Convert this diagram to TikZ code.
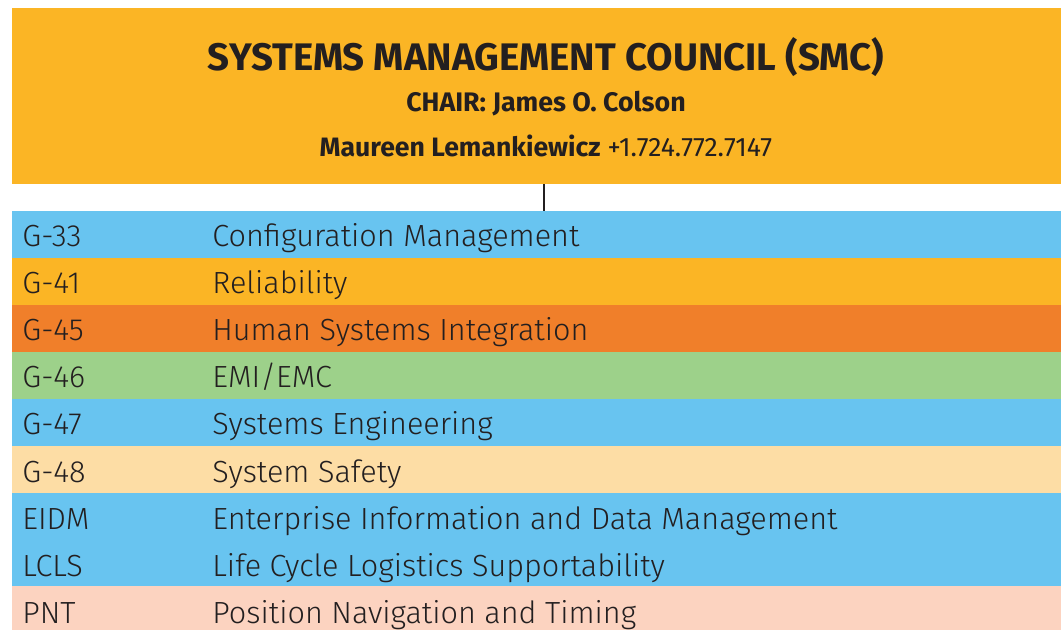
\documentclass[tikz,border=0pt]{standalone}
\usepackage{fontspec}
\setmainfont{Fira Sans}
\newfontfamily\rowfont{Fira Sans Light}
\usetikzlibrary{positioning}
\definecolor{smcgold}{RGB}{251,181,37}
\definecolor{smcblue}{RGB}{104,196,240}
\definecolor{smcorange}{RGB}{240,127,42}
\definecolor{smcgreen}{RGB}{157,209,138}
\definecolor{smcpeach}{RGB}{253,221,165}
\definecolor{smcpink}{RGB}{252,211,192}
\definecolor{smcink}{RGB}{35,31,32}

\tikzset{
  councilbox/.style={fill=smcgold,inner sep=0pt,minimum width=524.5pt,minimum height=88pt},
  rowcode/.style={anchor=base west,inner sep=0pt,text=smcink,font=\rowfont\fontsize{15.3}{18}\selectfont},
  rowname/.style={anchor=base west,inner sep=0pt,text=smcink,font=\rowfont\fontsize{15.3}{18}\selectfont},
  headline/.style={anchor=base,inner sep=0pt,text=smcink}
}

\begin{document}
\begin{tikzpicture}[x=0.5pt,y=-0.5pt]
	\useasboundingbox (0,0) rectangle (1061,629);
	\clip (0,0) rectangle (1061,629);
	% council box
	\node[councilbox] (council) at (536.5,96) {};
	\node[headline,font=\fontsize{19.2}{22}\selectfont\bfseries] (title) at (546,70) {SYSTEMS MANAGEMENT COUNCIL (SMC)};
	\node[headline,font=\fontsize{13.4}{16}\selectfont\bfseries] (chair) at (546,111) {CHAIR: James O. Colson};
	\node[headline,font=\fontsize{13.3}{16}\selectfont] (staff) at (546,156) {\textbf{Maureen Lemankiewicz} +1.724.772.7147};
	% committee rows
	\fill[smcblue] (12,211) rectangle (1061,258);
	\fill[smcgold] (12,258) rectangle (1061,305);
	\fill[smcorange] (12,305) rectangle (1061,352);
	\fill[smcgreen] (12,352) rectangle (1061,399);
	\fill[smcblue] (12,399) rectangle (1061,446);
	\fill[smcpeach] (12,446) rectangle (1061,493);
	\fill[smcblue] (12,493) rectangle (1061,586);
	\fill[smcpink] (12,586) rectangle (1061,633);
	\coordinate (top) at (544,211);
	\foreach \code/\name [count=\i from 0] in {G-33/Configuration Management,G-41/Reliability,G-45/Human Systems Integration,G-46/{EMI/EMC},G-47/Systems Engineering,G-48/System Safety,EIDM/Enterprise Information and Data Management,LCLS/Life Cycle Logistics Supportability,PNT/Position Navigation and Timing}{
		\node[rowcode] (code\i) at (22,{246.5+47.1*\i}) {\code};
		\node[rowname] (name\i) at (212,{246.5+47.1*\i}) {\name};
	}
	\draw[line width=1.2pt,smcink] (council.south -| top) -- (top);
\end{tikzpicture}
\end{document}
